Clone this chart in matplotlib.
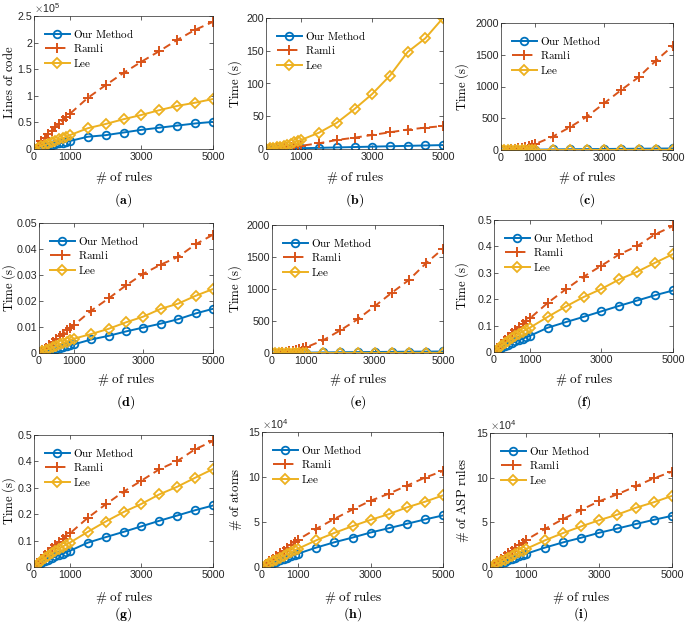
import matplotlib
matplotlib.use('Agg')
import matplotlib.pyplot as plt

plt.rcParams['font.family'] = ['Liberation Sans', 'DejaVu Sans']
plt.rcParams['mathtext.fontset'] = 'cm'

# x values (# of rules), shared by all panels
rules = [10, 100, 200, 300, 400, 500, 600, 700, 800, 900, 1000,
         1500, 2000, 2500, 3000, 3500, 4000, 4500, 5000]

# (a) lines of code, x1e5
a_our = [0.002, 0.015, 0.03, 0.045, 0.06, 0.075, 0.09, 0.105, 0.12, 0.135, 0.15,
         0.23, 0.26, 0.31, 0.36, 0.40, 0.44, 0.48, 0.51]
a_ramli = [0.01, 0.075, 0.15, 0.21, 0.28, 0.34, 0.41, 0.47, 0.55, 0.60, 0.66,
           0.96, 1.20, 1.43, 1.64, 1.84, 2.05, 2.24, 2.39]
a_lee = [0.003, 0.026, 0.052, 0.078, 0.10, 0.13, 0.155, 0.18, 0.205, 0.23, 0.26,
         0.39, 0.47, 0.56, 0.64, 0.73, 0.81, 0.87, 0.94]

# (b) time (s)
b_our = [0.01, 0.1, 0.2, 0.35, 0.45, 0.55, 0.65, 0.8, 0.9, 1.05, 1.2,
         1.8, 2.4, 3.0, 3.6, 4.2, 4.8, 5.4, 6.0]
b_ramli = [0.05, 0.4, 0.8, 1.2, 1.7, 2.1, 2.6, 3.1, 3.6, 4.3, 5.0,
           8.7, 13.8, 17.3, 21.4, 25.5, 29.6, 32.6, 35.0]
b_lee = [0.1, 0.8, 1.7, 2.7, 3.8, 5.0, 6.5, 8.0, 10.0, 12.0, 14.0,
         25.0, 40.0, 61.0, 84.0, 112.0, 148.0, 169.0, 200.0]

# (c) time (s)
c_our = [0.1, 0.3, 0.6, 1.0, 1.5, 2.0, 2.6, 3.2, 4.0, 4.8, 5.5,
         9.0, 12.0, 14.0, 16.0, 18.0, 20.0, 22.0, 24.0]
c_ramli = [0.2, 2.0, 5.0, 10.0, 16.0, 25.0, 35.0, 45.0, 60.0, 74.0, 95.0,
           210.0, 358.0, 526.0, 737.0, 947.0, 1147.0, 1405.0, 1642.0]
c_lee = [0.0, 0.05, 0.1, 0.15, 0.2, 0.3, 0.35, 0.4, 0.5, 0.55, 0.6,
         0.9, 1.2, 1.5, 1.8, 2.1, 2.4, 2.7, 3.0]

# (d) time (s)
d_our = [0.0001, 0.0004, 0.0007, 0.001, 0.0014, 0.0017, 0.002, 0.0023, 0.0027, 0.003, 0.0033,
         0.0052, 0.0066, 0.0083, 0.0098, 0.0113, 0.013, 0.0152, 0.017]
d_ramli = [0.0002, 0.0011, 0.0021, 0.0032, 0.0043, 0.0053, 0.0064, 0.0075, 0.0088, 0.0098, 0.0107,
           0.0163, 0.021, 0.026, 0.0305, 0.034, 0.037, 0.0418, 0.0455]
d_lee = [0.0001, 0.0006, 0.0011, 0.0017, 0.0022, 0.0028, 0.0033, 0.0039, 0.0044, 0.005, 0.0055,
         0.0073, 0.0093, 0.0118, 0.014, 0.017, 0.019, 0.022, 0.0246]

# (e) time (s)
e_our = [0.1, 0.3, 0.6, 1.0, 1.5, 2.0, 2.6, 3.2, 4.0, 4.8, 5.5,
         9.0, 12.0, 14.0, 16.0, 18.0, 20.0, 22.0, 24.0]
e_ramli = [0.2, 2.0, 5.0, 10.0, 16.0, 24.0, 34.0, 44.0, 58.0, 72.0, 90.0,
           200.0, 355.0, 525.0, 730.0, 940.0, 1140.0, 1400.0, 1630.0]
e_lee = [0.0, 0.05, 0.1, 0.15, 0.2, 0.3, 0.35, 0.4, 0.5, 0.55, 0.6,
         0.9, 1.2, 1.5, 1.8, 2.1, 2.4, 2.7, 3.0]

# (f) and (g) time (s)
f_our = [0.002, 0.009, 0.015, 0.022, 0.028, 0.034, 0.04, 0.045, 0.05, 0.056, 0.061,
         0.092, 0.113, 0.133, 0.154, 0.175, 0.195, 0.215, 0.233]
f_ramli = [0.004, 0.017, 0.031, 0.045, 0.058, 0.071, 0.084, 0.096, 0.106, 0.116, 0.127,
           0.186, 0.237, 0.285, 0.327, 0.37, 0.401, 0.446, 0.477]
f_lee = [0.003, 0.013, 0.023, 0.033, 0.043, 0.052, 0.061, 0.069, 0.077, 0.085, 0.092,
         0.133, 0.172, 0.208, 0.239, 0.275, 0.304, 0.338, 0.371]

# (h) # of atoms and (i) # of ASP rules, x1e4
h_our = [0.02, 0.16, 0.31, 0.46, 0.61, 0.76, 0.9, 1.04, 1.19, 1.34, 1.49,
         2.16, 2.75, 3.27, 3.83, 4.31, 4.8, 5.28, 5.73]
h_ramli = [0.04, 0.32, 0.63, 0.93, 1.23, 1.53, 1.83, 2.13, 2.43, 2.74, 3.05,
           4.24, 5.35, 6.39, 7.36, 8.14, 9.03, 9.93, 10.67]
h_lee = [0.03, 0.21, 0.42, 0.62, 0.83, 1.03, 1.23, 1.43, 1.63, 1.84, 2.04,
         2.97, 3.79, 4.54, 5.24, 5.87, 6.62, 7.25, 7.96]

panels = [
    ('(a)', a_our, a_ramli, a_lee, r'$\mathrm{Lines\ of\ code}$', 2.5, [0, 0.5, 1, 1.5, 2, 2.5], '5'),
    ('(b)', b_our, b_ramli, b_lee, r'$\mathrm{Time\ (s)}$', 200, [0, 50, 100, 150, 200], None),
    ('(c)', c_our, c_ramli, c_lee, r'$\mathrm{Time\ (s)}$', 2000, [0, 500, 1000, 1500, 2000], None),
    ('(d)', d_our, d_ramli, d_lee, r'$\mathrm{Time\ (s)}$', 0.05, [0, 0.01, 0.02, 0.03, 0.04, 0.05], None),
    ('(e)', e_our, e_ramli, e_lee, r'$\mathrm{Time\ (s)}$', 2000, [0, 500, 1000, 1500, 2000], None),
    ('(f)', f_our, f_ramli, f_lee, r'$\mathrm{Time\ (s)}$', 0.5, [0, 0.1, 0.2, 0.3, 0.4, 0.5], None),
    ('(g)', f_our, f_ramli, f_lee, r'$\mathrm{Time\ (s)}$', 0.5, [0, 0.1, 0.2, 0.3, 0.4, 0.5], None),
    ('(h)', h_our, h_ramli, h_lee, r'$\#\ \mathrm{of\ atoms}$', 15, [0, 5, 10, 15], '4'),
    ('(i)', h_our, h_ramli, h_lee, r'$\#\ \mathrm{of\ ASP\ rules}$', 15, [0, 5, 10, 15], '4'),
]

# axes boxes in pixels: left, right, top, bottom
boxes = [(34, 213, 16, 149), (266, 443, 18, 149), (501, 673, 23, 150),
         (39, 213, 223, 353), (272, 443, 225, 353), (494, 673, 220, 352),
         (34, 213, 435, 567), (262, 443, 432, 567), (490, 672, 433, 567)]
ylab_x = [16, 244, 471, 18, 244, 471, 18, 244, 471]  # anchor of the rotated y label
xlab_y = [177, 177, 177, 380, 380, 380, 597, 597, 597]
tag_y = [200, 200, 200, 402, 402, 402, 614, 614, 614]

W, H = 685, 625
blue, orange, yellow = '#0072BD', '#D95319', '#EDB120'

fig = plt.figure(figsize=(W / 100, H / 100), dpi=100)

for i, (tag, our, ramli, lee, ylab, ymax, yt, expo) in enumerate(panels):
    l, r, t, b = boxes[i]
    ax = fig.add_axes([l / W, 1 - b / H, (r - l) / W, (b - t) / H])
    ax.plot(rules, our, '-o', color=blue, lw=1.4, ms=5.5, mfc='none', mew=1.3,
            label=r'$\mathrm{Our\ Method}$')
    ax.plot(rules, ramli, '--+', color=orange, lw=1.4, ms=7, mew=1.4,
            dashes=(4, 2.5), label=r'$\mathrm{Ramli}$')
    ax.plot(rules, lee, '-D', color=yellow, lw=1.4, ms=4.6, mfc='none', mew=1.3,
            label=r'$\mathrm{Lee}$')
    ax.set_xlim(0, 5000)
    ax.set_ylim(0, ymax)
    ax.set_xticks([0, 1000, 3000, 5000])
    ax.set_yticks(yt)
    ax.set_yticklabels(['%g' % v for v in yt])
    ax.tick_params(direction='in', length=3, width=0.5, labelsize=7.7,
                   top=True, right=True, pad=2, colors='#262626')
    ax.tick_params(axis='y', pad=1.5)
    for s in ax.spines.values():
        s.set_linewidth(0.5)
        s.set_color('#262626')
    ax.set_ylabel(ylab, fontsize=9.2)
    ax.yaxis.set_label_coords((ylab_x[i] - l) / (r - l), 0.5)
    if expo:
        ax.text(0.0, 1.005, r'$\times\mathdefault{10^{%s}}$' % expo,
                transform=ax.transAxes, fontsize=7.7, va='bottom', color='#262626')
    ax.legend(loc='upper left', frameon=False, fontsize=8, handlelength=2.2,
              labelspacing=0.2, handletextpad=0.3, borderaxespad=0.6)
    cx = (l + r) / 2 / W
    fig.text(cx, 1 - xlab_y[i] / H, r'$\#\ \mathrm{of\ rules}$', ha='center',
             va='center', fontsize=9.5)
    fig.text(cx, 1 - tag_y[i] / H, r'$\mathbf{%s}$' % tag, ha='center',
             va='center', fontsize=10)

fig.savefig('out.png', dpi=100)
